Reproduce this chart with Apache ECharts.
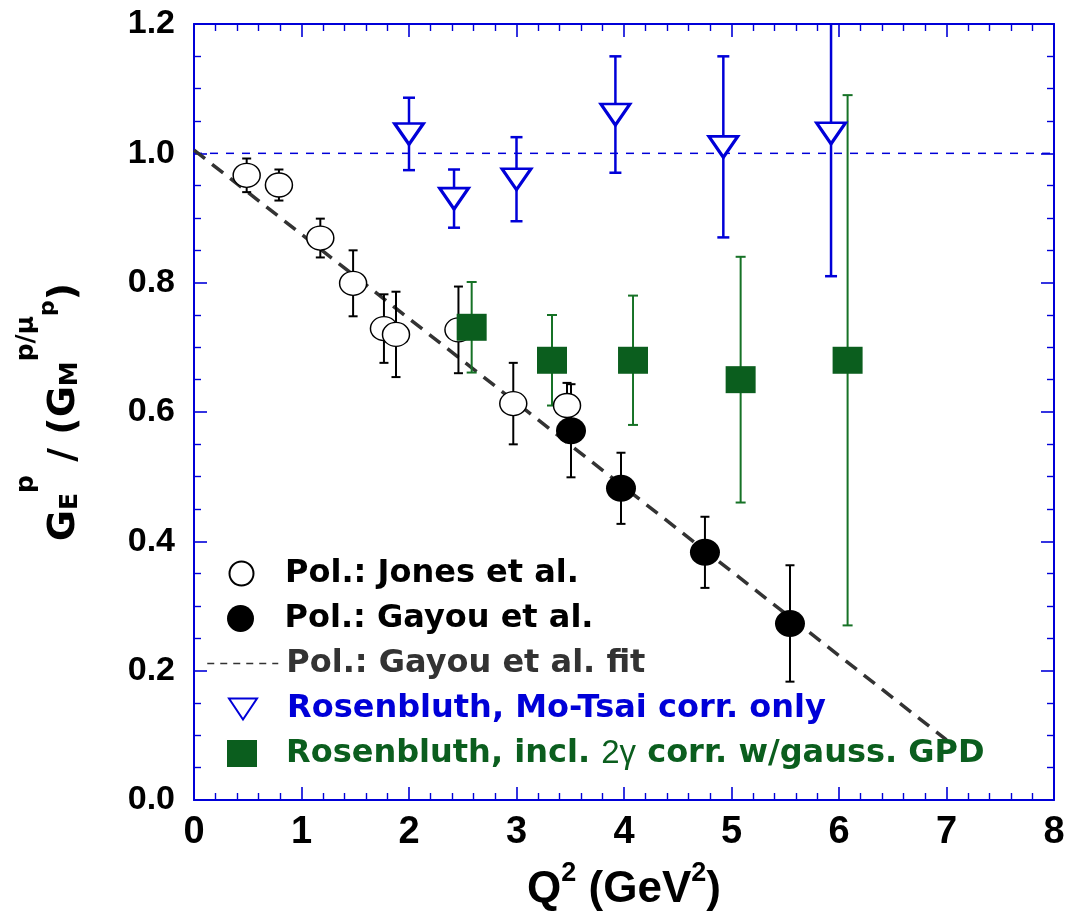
<!DOCTYPE html>
<html>
<head>
<meta charset="utf-8">
<script src="https://cdn.jsdelivr.net/npm/echarts@6/dist/echarts.min.js"></script>
<style>
html,body{margin:0;padding:0;background:#fff;}
#chart{width:1065px;height:917px;}
</style>
</head>
<body>
<div id="chart"></div>
<script>
// ---- data ----
const xTicks = [0, 1, 2, 3, 4, 5, 6, 7, 8];
const yTicks = [0.0, 0.2, 0.4, 0.6, 0.8, 1.0, 1.2];

const jonesQ2    = [0.49, 0.79, 1.175, 1.48, 1.767, 1.879, 2.46, 2.97, 3.47];
const jonesRatio = [0.966, 0.951, 0.869, 0.799, 0.729, 0.720, 0.727, 0.613, 0.610];
const jonesErr   = [0.026, 0.024, 0.030, 0.051, 0.053, 0.066, 0.067, 0.063, 0.035];

const gayouQ2    = [3.507, 3.972, 4.753, 5.544];
const gayouRatio = [0.571, 0.482, 0.383, 0.273];
const gayouErr   = [0.072, 0.055, 0.055, 0.090];

const fitQ2    = [0, 7.0];
const fitRatio = [1.005, 0.093];

const refQ2    = [0, 8];
const refRatio = [1.0, 1.0];

const moTsaiQ2    = [2.0, 2.419, 3.0, 3.92, 4.924, 5.926];
const moTsaiRatio = [1.030, 0.930, 0.960, 1.060, 1.010, 1.031];
const moTsaiErr   = [0.056, 0.045, 0.065, 0.090, 0.140, 0.221];

const tpeQ2    = [2.583, 3.33, 4.084, 5.085, 6.08];
const tpeRatio = [0.731, 0.680, 0.680, 0.650, 0.680];
const tpeErr   = [0.070, 0.070, 0.100, 0.190, 0.410];

const names = [
  'Pol.: Jones et al.',
  'Pol.: Gayou et al.',
  'Pol.: Gayou et al. fit',
  'Rosenbluth, Mo-Tsai corr. only',
  'Rosenbluth, incl. 2\u03b3 corr. w/gauss. GPD'
];

// ---- helpers ----
const BLUE = '#0000d8';
const GREEN = '#0b5e1e';
const zip2 = (a, b) => a.map((v, i) => [v, b[i]]);
const zip3 = (a, b, c) => a.map((v, i) => [v, b[i], c[i]]);

function errSeries(data, color, lw, cap, z) {
  return {
    type: 'custom',
    data: data,
    clip: true,
    z: z,
    silent: true,
    renderItem: function (params, api) {
      const x = api.value(0), y = api.value(1), e = api.value(2);
      const lo = api.coord([x, y - e]);
      const hi = api.coord([x, y + e]);
      const st = { stroke: color, lineWidth: lw };
      return {
        type: 'group',
        children: [
          { type: 'line', shape: { x1: lo[0], y1: lo[1], x2: hi[0], y2: hi[1] }, style: st },
          { type: 'line', shape: { x1: lo[0] - cap, y1: lo[1], x2: lo[0] + cap, y2: lo[1] }, style: st },
          { type: 'line', shape: { x1: hi[0] - cap, y1: hi[1], x2: hi[0] + cap, y2: hi[1] }, style: st }
        ]
      };
    }
  };
}

const TRI = 'path://M0,0 L10,0 L5,7.5 Z';

const axisCommon = {
  type: 'value',
  axisLine: { show: true, onZero: false, lineStyle: { color: BLUE, width: 2 } },
  axisTick: { show: true, inside: true, length: 13, lineStyle: { color: BLUE, width: 1.6 } },
  minorTick: { show: true, length: 7, lineStyle: { color: BLUE, width: 1.4 } },
  splitLine: { show: false },
  minorSplitLine: { show: false }
};

const legendFont = { fontFamily: 'DejaVu Sans', fontWeight: 'bold', fontSize: 32, lineHeight: 36 };

function legendAt(name, cy, w, h, color, padLeft, extra) {
  return Object.assign({
    show: true,
    data: [name],
    selectedMode: false,
    orient: 'vertical',
    left: 242 - w / 2,
    top: cy - 18,
    padding: 0,
    itemWidth: w,
    itemHeight: h,
    textStyle: Object.assign({ color: color, padding: [0, 0, 0, padLeft] }, legendFont)
  }, extra || {});
}

const option = {
  animation: false,
  backgroundColor: '#fff',
  grid: { left: 194, right: 11, top: 24, bottom: 117, containLabel: false, outerBoundsMode: 'none' },
  xAxis: [
    Object.assign({}, axisCommon, {
      min: 0, max: 8, interval: 1, position: 'bottom',
      minorTick: Object.assign({}, axisCommon.minorTick, { splitNumber: 5 }),
      axisLabel: {
        show: true, margin: 14, color: '#000',
        fontFamily: "'Liberation Sans Narrow', 'Liberation Sans', Arial, sans-serif",
        fontWeight: 'bold', fontSize: 38, lineHeight: 38,
        formatter: v => (xTicks.indexOf(v) >= 0 ? String(v) : '')
      },
      name: '{m|Q}{sp|2}{m| (GeV}{sp|2}{m|)}',
      nameLocation: 'middle',
      nameGap: 60,
      nameTextStyle: {
        rich: {
          m: { fontFamily: 'Liberation Sans', fontWeight: 'bold', fontSize: 44, lineHeight: 44, padding: [8, 0, 0, 0], verticalAlign: 'top', color: '#000' },
          sp: { fontFamily: 'Liberation Sans', fontWeight: 'bold', fontSize: 27, lineHeight: 26, verticalAlign: 'top', color: '#000' }
        }
      }
    }),
    Object.assign({}, axisCommon, {
      min: 0, max: 8, interval: 1, position: 'top',
      minorTick: Object.assign({}, axisCommon.minorTick, { splitNumber: 5 }),
      axisLabel: { show: false }
    })
  ],
  yAxis: [
    Object.assign({}, axisCommon, {
      min: 0, max: 1.2, interval: 0.2, position: 'left',
      minorTick: Object.assign({}, axisCommon.minorTick, { splitNumber: 4 }),
      axisLabel: {
        show: true, margin: 19, color: '#000',
        fontFamily: 'Liberation Sans', fontWeight: 'bold', fontSize: 34,
        formatter: v => {
          const t = yTicks.find(k => Math.abs(k - v) < 1e-6);
          return t === undefined ? '' : t.toFixed(1);
        }
      },
      name: '{m|G}{sb|E}{sp|p}{m| / (G}{sb|M}{sp|p/\u03bc}{ss|p}{m|)}',
      nameLocation: 'middle',
      nameRotate: 90,
      nameGap: 142,
      nameTextStyle: {
        rich: {
          m: { fontFamily: 'DejaVu Sans', fontWeight: 'bold', fontSize: 38, lineHeight: 38, padding: [31, 0, 0, 0], verticalAlign: 'top', color: '#000' },
          sb: { fontFamily: 'DejaVu Sans', fontWeight: 'bold', fontSize: 25, lineHeight: 25, padding: [44, 0, 0, 0], verticalAlign: 'top', color: '#000' },
          sp: { fontFamily: 'DejaVu Sans', fontWeight: 'bold', fontSize: 25, lineHeight: 14, verticalAlign: 'top', color: '#000' },
          ss: { fontFamily: 'DejaVu Sans', fontWeight: 'bold', fontSize: 22, lineHeight: 22, padding: [23, 0, 0, 0], verticalAlign: 'top', color: '#000' }
        }
      }
    }),
    Object.assign({}, axisCommon, {
      min: 0, max: 1.2, interval: 0.2, position: 'right',
      minorTick: Object.assign({}, axisCommon.minorTick, { splitNumber: 4 }),
      axisLabel: { show: false }
    })
  ],
  legend: [
    legendAt(names[0], 573.5, 27, 24, '#000', 25),
    legendAt(names[1], 618.5, 30, 27, '#000', 24),
    legendAt(names[2], 663.5, 71, 10, '#333', 3, {
      lineStyle: { color: '#333', width: 1.5, type: [7, 6] },
      itemStyle: { opacity: 0, color: 'transparent', borderWidth: 0 }
    }),
    legendAt(names[3], 709, 28, 22, BLUE, 25),
    Object.assign(legendAt(names[4], 753.5, 30, 27, GREEN, 24), {
      formatter: () => 'Rosenbluth, incl. {g|2\u03b3} corr. w/gauss. GPD',
      textStyle: Object.assign({ color: GREEN, padding: [0, 0, 0, 24],
        rich: { g: { fontFamily: 'Liberation Sans', fontStyle: 'normal', fontWeight: 'normal', fontSize: 33, color: GREEN } } }, legendFont)
    })
  ],
  series: [
    // reference line at 1.0
    {
      type: 'line', name: 'ref', data: zip2(refQ2, refRatio), symbol: 'none', silent: true, z: 1,
      itemStyle: { color: BLUE },
      lineStyle: { color: BLUE, width: 1.5, type: [8, 8] }
    },
    // fit line
    {
      type: 'line', name: names[2], data: zip2(fitQ2, fitRatio), symbol: 'none', silent: true, z: 1,
      itemStyle: { color: '#333' },
      lineStyle: { color: '#333', width: 3.5, type: [14, 9] }
    },
    errSeries(zip3(jonesQ2, jonesRatio, jonesErr), '#000', 2, 4.5, 2),
    errSeries(zip3(gayouQ2, gayouRatio, gayouErr), '#000', 2, 4.5, 2),
    errSeries(zip3(moTsaiQ2, moTsaiRatio, moTsaiErr), BLUE, 2.5, 6, 2),
    errSeries(zip3(tpeQ2, tpeRatio, tpeErr), '#167226', 2, 5, 2),
    {
      type: 'scatter', name: names[0], data: zip2(jonesQ2, jonesRatio), z: 3,
      symbol: 'circle', symbolSize: [27, 24], symbolKeepAspect: false,
      itemStyle: { color: '#fff', borderColor: '#000', borderWidth: 1.4, opacity: 1 }
    },
    {
      type: 'scatter', name: names[1], data: zip2(gayouQ2, gayouRatio), z: 4,
      symbol: 'circle', symbolSize: [30, 27], symbolKeepAspect: false,
      itemStyle: { color: '#000', borderColor: '#000', borderWidth: 0, opacity: 1 }
    },
    {
      type: 'scatter', name: names[3], data: zip2(moTsaiQ2, moTsaiRatio), z: 5,
      symbol: TRI, symbolSize: [29, 21], symbolKeepAspect: false,
      itemStyle: { color: '#fff', borderColor: BLUE, borderWidth: 3, opacity: 1 }
    },
    {
      type: 'scatter', name: names[4], data: zip2(tpeQ2, tpeRatio), z: 6,
      symbol: 'rect', symbolSize: [30, 27], symbolKeepAspect: false,
      itemStyle: { color: GREEN, borderWidth: 0, opacity: 1 }
    }
  ]
};

const chart = echarts.init(document.getElementById('chart'), null, { renderer: 'canvas' });
chart.setOption(option);
</script>
</body>
</html>
